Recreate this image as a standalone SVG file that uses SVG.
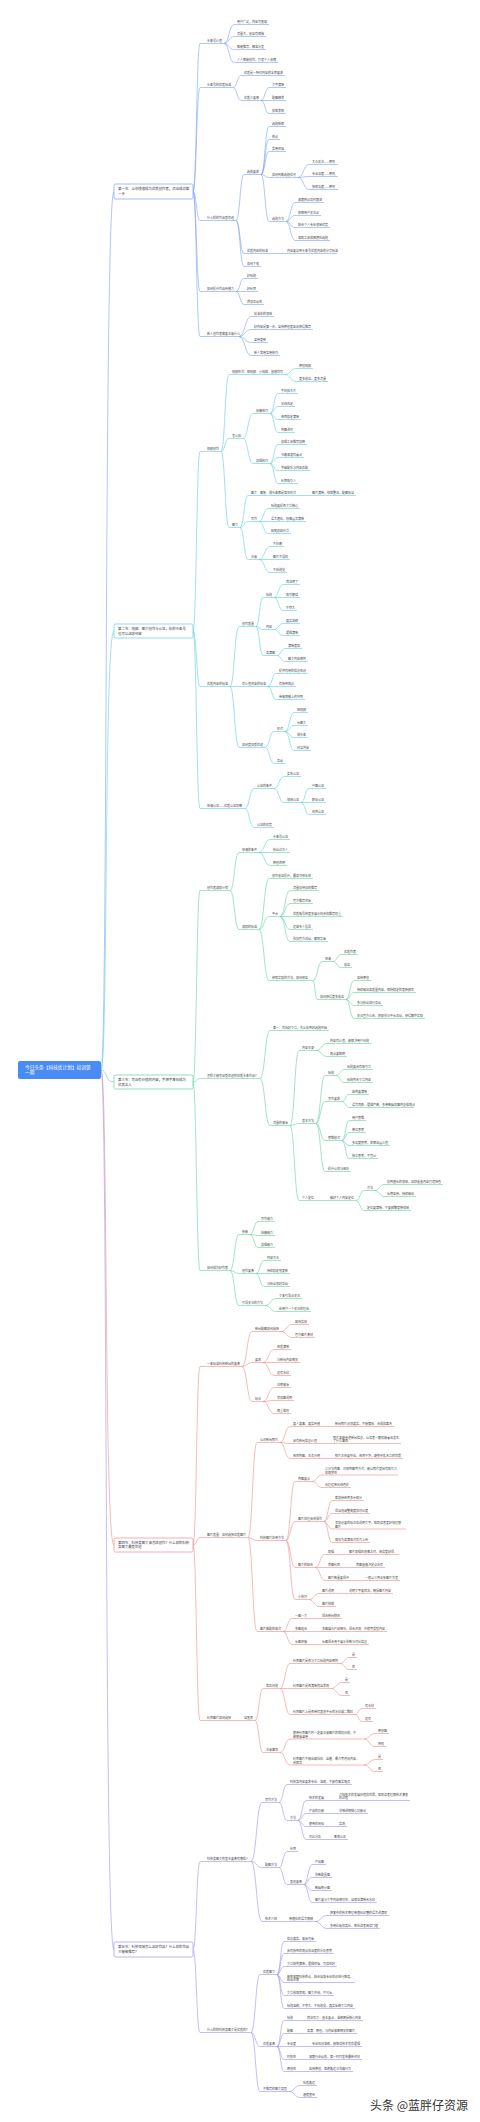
<svg xmlns="http://www.w3.org/2000/svg" width="480" height="2122" viewBox="0 0 480 2122">
<style>
text{font-family:"Noto Sans CJK SC","Noto Sans",sans-serif;font-size:3px;fill:#484848}
.l1 text{font-size:3.4px;fill:#3a3a3a}
.root text{font-size:4.7px;fill:#fff}
.wm{font-size:12px;fill:#333;stroke:#fff;stroke-width:0.4px;paint-order:stroke}
path{fill:none;stroke-width:0.6}
.c1 path,.c1 rect{stroke:#7aa2f3}
.c2 path,.c2 rect{stroke:#5dcfe0}
.c3 path,.c3 rect{stroke:#5fd3a0}
.c4 path,.c4 rect{stroke:#f28b8b}
.c5 path,.c5 rect{stroke:#9d92ee}
.l1 rect{fill:#fff;stroke-width:0.7}
</style>
<rect width="480" height="2122" fill="#fff"/>

<g id="connectors">
<g class="c1">
<path d="M101 1070C108 1070 104 191.5 114 191.5"/>
<path d="M193 191.5C196.5 191.5 196.5 43.5 200 43.5M193 191.5C196.5 191.5 196.5 87.5 200 87.5M193 191.5C196.5 191.5 196.5 220.5 200 220.5M193 191.5C196.5 191.5 196.5 291.5 200 291.5M193 191.5C196.5 191.5 196.5 336.5 200 336.5"/>
<path d="M224 43.5C229 43.5 229 24.5 234 24.5M224 43.5C229 43.5 229 36.5 234 36.5M224 43.5C229 43.5 229 49.5 234 49.5M224 43.5C229 43.5 229 62.5 234 62.5"/>
<path d="M233 87.5C237 87.5 237 75.5 241 75.5M233 87.5C237 87.5 237 100.5 241 100.5"/>
<path d="M261 100.5C265 100.5 265 87.5 269 87.5M261 100.5H269M261 100.5C265 100.5 265 113.5 269 113.5"/>
<path d="M236 220.5C240 220.5 240 174.5 244 174.5M236 220.5C240 220.5 240 253.5 244 253.5M236 220.5C240 220.5 240 266.5 244 266.5"/>
<path d="M261 174.5C265 174.5 265 126.5 269 126.5M261 174.5C265 174.5 265 139.5 269 139.5M261 174.5C265 174.5 265 151.5 269 151.5M261 174.5C265 174.5 265 177.5 269 177.5M261 174.5C265 174.5 265 221.5 269 221.5"/>
<path d="M298 177.5C303.5 177.5 303.5 164.5 309 164.5M298 177.5C303.5 177.5 303.5 176.5 309 176.5M298 177.5C303.5 177.5 303.5 189.5 309 189.5"/>
<path d="M286 221.5C290.5 221.5 290.5 202.5 295 202.5M286 221.5C290.5 221.5 290.5 215.5 295 215.5M286 221.5C290.5 221.5 290.5 227.5 295 227.5M286 221.5C290.5 221.5 290.5 240.5 295 240.5"/>
<path d="M270 253.5H284"/>
<path d="M236 291.5C240 291.5 240 278.5 244 278.5M236 291.5H244M236 291.5C240 291.5 240 304.5 244 304.5"/>
<path d="M239 336.5C245 336.5 245 316.5 251 316.5M239 336.5C245 336.5 245 329.5 251 329.5M239 336.5C245 336.5 245 342.5 251 342.5M239 336.5C245 336.5 245 355.5 251 355.5"/>
</g>
<g class="c2">
<path d="M101 1070C108 1070 104 631 114 631"/>
<path d="M193 631C196.5 631 196.5 451.5 200 451.5M193 631C196.5 631 196.5 686.5 200 686.5M193 631C196.5 631 196.5 808.5 200 808.5"/>
<path d="M221 451.5C225 451.5 225 374.5 229 374.5M221 451.5C225 451.5 225 438.5 229 438.5M221 451.5C225 451.5 225 527.5 229 527.5"/>
<path d="M285 374.5C290.5 374.5 290.5 368.5 296 368.5M285 374.5C290.5 374.5 290.5 381.5 296 381.5"/>
<path d="M243 438.5C248 438.5 248 413.5 253 413.5M243 438.5C248 438.5 248 463.5 253 463.5"/>
<path d="M270 413.5C274 413.5 274 393.5 278 393.5M270 413.5C274 413.5 274 406.5 278 406.5M270 413.5C274 413.5 274 419.5 278 419.5M270 413.5C274 413.5 274 432.5 278 432.5"/>
<path d="M270 463.5C274 463.5 274 444.5 278 444.5M270 463.5C274 463.5 274 457.5 278 457.5M270 463.5C274 463.5 274 470.5 278 470.5M270 463.5C274 463.5 274 483.5 278 483.5"/>
<path d="M240 527.5C244 527.5 244 495.5 248 495.5M240 527.5C244 527.5 244 521.5 248 521.5M240 527.5C244 527.5 244 559.5 248 559.5"/>
<path d="M301 495.5H309"/>
<path d="M259 521.5C263.5 521.5 263.5 508.5 268 508.5M259 521.5H268M259 521.5C263.5 521.5 263.5 533.5 268 533.5"/>
<path d="M259 559.5C264.5 559.5 264.5 546.5 270 546.5M259 559.5H270M259 559.5C264.5 559.5 264.5 572.5 270 572.5"/>
<path d="M230 686.5C234.5 686.5 234.5 626.5 239 626.5M230 686.5H239M230 686.5C234.5 686.5 234.5 747.5 239 747.5"/>
<path d="M256 626.5C259.5 626.5 259.5 597.5 263 597.5M256 626.5C259.5 626.5 259.5 629.5 263 629.5M256 626.5C259.5 626.5 259.5 655.5 263 655.5"/>
<path d="M274 597.5C278.5 597.5 278.5 584.5 283 584.5M274 597.5H283M274 597.5C278.5 597.5 278.5 610.5 283 610.5"/>
<path d="M274 629.5C278.5 629.5 278.5 623.5 283 623.5M274 629.5C278.5 629.5 278.5 635.5 283 635.5"/>
<path d="M277 655.5C281 655.5 281 648.5 285 648.5M277 655.5C281 655.5 281 661.5 285 661.5"/>
<path d="M268 686.5C272 686.5 272 673.5 276 673.5M268 686.5H276M268 686.5C272 686.5 272 699.5 276 699.5"/>
<path d="M265 747.5C269.5 747.5 269.5 731.5 274 731.5M265 747.5C269.5 747.5 269.5 763.5 274 763.5"/>
<path d="M285 731.5C289.5 731.5 289.5 712.5 294 712.5M285 731.5C289.5 731.5 289.5 725.5 294 725.5M285 731.5C289.5 731.5 289.5 737.5 294 737.5M285 731.5C289.5 731.5 289.5 750.5 294 750.5"/>
<path d="M245 808.5C249.5 808.5 249.5 788.5 254 788.5M245 808.5C249.5 808.5 249.5 827.5 254 827.5"/>
<path d="M274 788.5C279 788.5 279 776.5 284 776.5M274 788.5C279 788.5 279 802.5 284 802.5"/>
<path d="M301 802.5C305 802.5 305 788.5 309 788.5M301 802.5H309M301 802.5C305 802.5 305 814.5 309 814.5"/>
</g>
<g class="c3">
<path d="M101 1070C108 1070 104 1082 114 1082"/>
<path d="M193 1082C196.5 1082 196.5 890.5 200 890.5M193 1082C196.5 1082 196.5 1078.5 200 1078.5M193 1082C196.5 1082 196.5 1270.5 200 1270.5"/>
<path d="M230 890.5C234.5 890.5 234.5 852.5 239 852.5M230 890.5C234.5 890.5 234.5 929.5 239 929.5"/>
<path d="M259 852.5C264.5 852.5 264.5 839.5 270 839.5M259 852.5H270M259 852.5C264.5 852.5 264.5 865.5 270 865.5"/>
<path d="M259 929.5C264 929.5 264 878.5 269 878.5M259 929.5C264 929.5 264 916.5 269 916.5M259 929.5C264 929.5 264 980.5 269 980.5"/>
<path d="M280 916.5C285 916.5 285 890.5 290 890.5M280 916.5C285 916.5 285 903.5 290 903.5M280 916.5H290M280 916.5C285 916.5 285 929.5 290 929.5M280 916.5C285 916.5 285 941.5 290 941.5"/>
<path d="M313 980.5C317.5 980.5 317.5 961.5 322 961.5M313 980.5C315 980.5 315 999.5 317 999.5"/>
<path d="M333 961.5C337 961.5 337 954.5 341 954.5M333 961.5C337 961.5 337 967.5 341 967.5"/>
<path d="M346 999.5C350 999.5 350 980.5 354 980.5M346 999.5C350 999.5 350 992.5 354 992.5M346 999.5C350 999.5 350 1005.5 354 1005.5M346 999.5C350 999.5 350 1018.5 354 1018.5"/>
<path d="M260 1078.5C265 1078.5 265 1030.5 270 1030.5M260 1078.5C265 1078.5 265 1125.5 270 1125.5"/>
<path d="M290 1125.5C294.5 1125.5 294.5 1050.5 299 1050.5M290 1125.5C294.5 1125.5 294.5 1123.5 299 1123.5M290 1125.5C294.5 1125.5 294.5 1200.5 299 1200.5"/>
<path d="M316 1050.5C321.5 1050.5 321.5 1043.5 327 1043.5M316 1050.5C321.5 1050.5 321.5 1056.5 327 1056.5"/>
<path d="M316 1123.5C320.5 1123.5 320.5 1075.5 325 1075.5M316 1123.5C320.5 1123.5 320.5 1101.5 325 1101.5M316 1123.5C320.5 1123.5 320.5 1140.5 325 1140.5M316 1123.5C320.5 1123.5 320.5 1171.5 325 1171.5"/>
<path d="M336 1075.5C340 1075.5 340 1069.5 344 1069.5M336 1075.5C340 1075.5 340 1082.5 344 1082.5"/>
<path d="M342 1101.5C345.5 1101.5 345.5 1094.5 349 1094.5M342 1101.5C345.5 1101.5 345.5 1107.5 349 1107.5"/>
<path d="M342 1140.5C345.5 1140.5 345.5 1120.5 349 1120.5M342 1140.5C345.5 1140.5 345.5 1132.5 349 1132.5M342 1140.5C345.5 1140.5 345.5 1145.5 349 1145.5M342 1140.5C345.5 1140.5 345.5 1158.5 349 1158.5"/>
<path d="M316 1200.5H327"/>
<path d="M356 1200.5C360 1200.5 360 1190.5 364 1190.5M356 1200.5C360 1200.5 360 1210.5 364 1210.5"/>
<path d="M375 1190.5C379.5 1190.5 379.5 1184.5 384 1184.5M375 1190.5C379.5 1190.5 379.5 1196.5 384 1196.5"/>
<path d="M230 1270.5C234.5 1270.5 234.5 1234.5 239 1234.5M230 1270.5C234.5 1270.5 234.5 1273.5 239 1273.5M230 1270.5C234.5 1270.5 234.5 1305.5 239 1305.5"/>
<path d="M250 1234.5C254 1234.5 254 1221.5 258 1221.5M250 1234.5C254 1234.5 254 1235.5 258 1235.5M250 1234.5C254 1234.5 254 1247.5 258 1247.5"/>
<path d="M256 1273.5C260 1273.5 260 1260.5 264 1260.5M256 1273.5H264M256 1273.5C260 1273.5 260 1286.5 264 1286.5"/>
<path d="M265 1305.5C270.5 1305.5 270.5 1298.5 276 1298.5M265 1305.5C270.5 1305.5 270.5 1311.5 276 1311.5"/>
</g>
<g class="c4">
<path d="M101 1070C108 1070 104 1545 114 1545"/>
<path d="M193 1545C196.5 1545 196.5 1366.5 200 1366.5M193 1545C196.5 1545 196.5 1537.5 200 1537.5M193 1545C196.5 1545 196.5 1720.5 200 1720.5"/>
<path d="M242 1366.5C247 1366.5 247 1331.5 252 1331.5M242 1366.5C247 1366.5 247 1362.5 252 1362.5M242 1366.5C247 1366.5 247 1401.5 252 1401.5"/>
<path d="M281 1331.5C286.5 1331.5 286.5 1324.5 292 1324.5M281 1331.5C286.5 1331.5 286.5 1337.5 292 1337.5"/>
<path d="M263 1362.5C268.5 1362.5 268.5 1349.5 274 1349.5M263 1362.5H274M263 1362.5C268.5 1362.5 268.5 1375.5 274 1375.5"/>
<path d="M263 1401.5C268.5 1401.5 268.5 1387.5 274 1387.5M263 1401.5C268.5 1401.5 268.5 1400.5 274 1400.5M263 1401.5C268.5 1401.5 268.5 1413.5 274 1413.5"/>
<path d="M248 1537.5C252.5 1537.5 252.5 1442.5 257 1442.5M248 1537.5C252.5 1537.5 252.5 1540.5 257 1540.5M248 1537.5C252.5 1537.5 252.5 1631.5 257 1631.5"/>
<path d="M280 1442.5C285 1442.5 285 1426.5 290 1426.5M280 1442.5C285 1442.5 285 1443.5 290 1443.5M280 1442.5C285 1442.5 285 1458.5 290 1458.5"/>
<path d="M322 1426.5H332M319 1443.5H330M322 1458.5H332"/>
<path d="M286 1540.5C290.5 1540.5 290.5 1481.5 295 1481.5M286 1540.5C290.5 1540.5 290.5 1521.5 295 1521.5M286 1540.5C290.5 1540.5 290.5 1567.5 295 1567.5M286 1540.5C290.5 1540.5 290.5 1599.5 295 1599.5"/>
<path d="M312 1481.5C317 1481.5 317 1475 322 1475M312 1481.5C317 1481.5 317 1487.5 322 1487.5"/>
<path d="M324 1521.5C328 1521.5 328 1500.5 332 1500.5M324 1521.5C328 1521.5 328 1513.5 332 1513.5M324 1521.5C328 1521.5 328 1529 332 1529M324 1521.5C328 1521.5 328 1542.5 332 1542.5"/>
<path d="M315 1567.5C320 1567.5 320 1554.5 325 1554.5M315 1567.5H325M315 1567.5C320 1567.5 320 1580.5 325 1580.5"/>
<path d="M336 1554.5H346M342 1567.5H353M351 1580.5H362"/>
<path d="M309 1599.5C314 1599.5 314 1593.5 319 1593.5M309 1599.5C314 1599.5 314 1606.5 319 1606.5"/>
<path d="M336 1593.5H346"/>
<path d="M283 1631.5C287.5 1631.5 287.5 1618.5 292 1618.5M283 1631.5H292M283 1631.5C287.5 1631.5 287.5 1644.5 292 1644.5"/>
<path d="M309 1618.5H319M309 1631.5H319M309 1644.5H319"/>
<path d="M233 1720.5H241"/>
<path d="M255 1720.5C259 1720.5 259 1688.5 263 1688.5M255 1720.5C259 1720.5 259 1752.5 263 1752.5"/>
<path d="M280 1688.5C285 1688.5 285 1663.5 290 1663.5M280 1688.5H290M280 1688.5C285 1688.5 285 1714.5 290 1714.5"/>
<path d="M340 1663.5C344.5 1663.5 344.5 1657.5 349 1657.5M340 1663.5C344.5 1663.5 344.5 1669.5 349 1669.5"/>
<path d="M331 1688.5C336.5 1688.5 336.5 1682.5 342 1682.5M331 1688.5C336.5 1688.5 336.5 1695.5 342 1695.5"/>
<path d="M355 1714.5C358.5 1714.5 358.5 1708.5 362 1708.5M355 1714.5C358.5 1714.5 358.5 1721.5 362 1721.5"/>
<path d="M280 1752.5C285 1752.5 285 1739 290 1739M280 1752.5C285 1752.5 285 1765 290 1765"/>
<path d="M364 1739C369.5 1739 369.5 1733.5 375 1733.5M364 1739C369.5 1739 369.5 1746.5 375 1746.5"/>
<path d="M364 1765C369.5 1765 369.5 1759.5 375 1759.5M364 1765C369.5 1765 369.5 1771.5 375 1771.5"/>
</g>
<g class="c5">
<path d="M101 1070C108 1070 104 1949.5 114 1949.5"/>
<path d="M193 1949.5C196.5 1949.5 196.5 1861.5 200 1861.5M193 1949.5C196.5 1949.5 196.5 2032.5 200 2032.5"/>
<path d="M251 1861.5C256.5 1861.5 256.5 1802.5 262 1802.5M251 1861.5C256.5 1861.5 256.5 1867.5 262 1867.5M251 1861.5C256.5 1861.5 256.5 1921.5 262 1921.5"/>
<path d="M279 1802.5C283 1802.5 283 1784.5 287 1784.5M279 1802.5C283 1802.5 283 1820.5 287 1820.5"/>
<path d="M298 1820.5C302 1820.5 302 1800.5 306 1800.5M298 1820.5C302 1820.5 302 1813.5 306 1813.5M298 1820.5C302 1820.5 302 1826.5 306 1826.5M298 1820.5C302 1820.5 302 1839.5 306 1839.5"/>
<path d="M326 1800.5H336M326 1813.5H336M326 1826.5H336M323 1839.5H331"/>
<path d="M279 1867.5C283 1867.5 283 1851.5 287 1851.5M279 1867.5C283 1867.5 283 1884.5 287 1884.5"/>
<path d="M304 1884.5C308 1884.5 308 1864.5 312 1864.5M304 1884.5C308 1884.5 308 1877.5 312 1877.5M304 1884.5C308 1884.5 308 1890.5 312 1890.5M304 1884.5C308 1884.5 308 1902.5 312 1902.5"/>
<path d="M279 1921.5H286"/>
<path d="M315 1921.5C321 1921.5 321 1915.5 327 1915.5M315 1921.5C321 1921.5 321 1928.5 327 1928.5"/>
<path d="M251 2032.5C255.5 2032.5 255.5 1974.5 260 1974.5M251 2032.5C255.5 2032.5 255.5 2046.5 260 2046.5M251 2032.5C255.5 2032.5 255.5 2091.5 260 2091.5"/>
<path d="M277 1974.5C280.5 1974.5 280.5 1941.5 284 1941.5M277 1974.5C280.5 1974.5 280.5 1953.5 284 1953.5M277 1974.5C280.5 1974.5 280.5 1966.5 284 1966.5M277 1974.5C280.5 1974.5 280.5 1982.5 284 1982.5M277 1974.5C280.5 1974.5 280.5 1995.5 284 1995.5M277 1974.5C280.5 1974.5 280.5 2008.5 284 2008.5"/>
<path d="M277 2046.5C280.5 2046.5 280.5 2020.5 284 2020.5M277 2046.5C280.5 2046.5 280.5 2033.5 284 2033.5M277 2046.5H284M277 2046.5C280.5 2046.5 280.5 2059.5 284 2059.5M277 2046.5C280.5 2046.5 280.5 2071.5 284 2071.5"/>
<path d="M295 2020.5H304M295 2033.5H304M298 2046.5H309M298 2059.5H306M298 2071.5H306"/>
<path d="M289 2091.5C294.5 2091.5 294.5 2085.5 300 2085.5M289 2091.5C294.5 2091.5 294.5 2097.5 300 2097.5"/>
</g>
</g>

<g id="root" class="root">
<rect x="18" y="1061" width="83" height="18" rx="2" fill="#4a8cf5"/>
<text x="25" y="1068.6">今日头条【科技优计划】培训第</text>
<text x="25" y="1074.3">一期</text>
</g>

<g class="l1 c1"><g id="sec1">
<rect x="114" y="184" width="79" height="15" rx="1.5"/>
<text x="118" y="189.5">第一节：让你快速成为优质创作者，迈出成功第</text>
<text x="118" y="194.5">一步</text>
</g></g>
<g class="l1 c2"><g id="sec2">
<rect x="114" y="624" width="79" height="14" rx="1.5"/>
<text x="118" y="629.9">第二节：视频、图文创作与认证，你的头条号</text>
<text x="118" y="634.9">也可以这样经营</text>
</g></g>
<g class="l1 c3"><g id="sec3">
<rect x="114" y="1075" width="79" height="14" rx="1.5"/>
<text x="118" y="1080.9">第三节：写出有价值的内容，手把手教你成为</text>
<text x="118" y="1085.9">优质达人</text>
</g></g>
<g class="l1 c4"><g id="sec4">
<rect x="114" y="1538" width="79" height="14" rx="1.5"/>
<text x="118" y="1543.5">第四节：科技类图文该怎样创作？什么样的科技</text>
<text x="118" y="1548.2">类图文最受欢迎</text>
</g></g>
<g class="l1 c5"><g id="sec5">
<rect x="114" y="1942" width="79" height="15" rx="1.5"/>
<text x="118" y="1947.9">第五节：科技领域怎么出好作品？什么样的作品</text>
<text x="118" y="1952.5">才能被推荐？</text>
</g></g>

<g class="c1">
<g id="s1a1"><text x="207" y="42.1">头条号价值</text><path d="M200 43.5H224"/></g>
<g id="s1a1a"><text x="237" y="23.1">用户广泛，内容可变现</text><path d="M234 24.5H269"/></g>
<g id="s1a1b"><text x="237" y="35.1">流量大，收益有保障</text><path d="M234 36.5H266"/></g>
<g id="s1a1c"><text x="237" y="48.1">智能推荐，精准分发</text><path d="M234 49.5H266"/></g>
<g id="s1a1d"><text x="237" y="61.1">人人都能创作，打造个人品牌</text><path d="M234 62.5H278"/></g>
<g id="s1a2"><text x="207" y="86.1">头条号的优质标准</text><path d="M200 87.5H233"/></g>
<g id="s1b1"><text x="244" y="74.1">优质是一种对内容的全面要求</text><path d="M241 75.5H285"/></g>
<g id="s1b2"><text x="244" y="99.1">优质三要素</text><path d="M241 100.5H261"/></g>
<g id="s1c1"><text x="272" y="86.1">文字清晰</text><path d="M269 87.5H286"/></g>
<g id="s1c2"><text x="272" y="99.1">配图精美</text><path d="M269 100.5H286"/></g>
<g id="s1c3"><text x="272" y="112.1">排版美观</text><path d="M269 113.5H286"/></g>
<g id="s1a3"><text x="207" y="219.1">什么样的作品受欢迎</text><path d="M200 220.5H236"/></g>
<g id="s1d1"><text x="247" y="173.1">选题要求</text><path d="M244 174.5H261"/></g>
<g id="s1e1"><text x="272" y="125.1">选题新颖</text><path d="M269 126.5H286"/></g>
<g id="s1e2"><text x="272" y="138.1">热点</text><path d="M269 139.5H280"/></g>
<g id="s1e3"><text x="272" y="150.1">实用性强</text><path d="M269 151.5H286"/></g>
<g id="s1e4"><text x="272" y="176.1">如何判断选题优劣</text><path d="M269 177.5H298"/></g>
<g id="s1f1"><text x="312" y="163.1">大众关注——原则</text><path d="M309 164.5H338"/></g>
<g id="s1f2"><text x="312" y="175.1">专业深度——原则</text><path d="M309 176.5H338"/></g>
<g id="s1f3"><text x="312" y="188.1">独家角度——原则</text><path d="M309 189.5H338"/></g>
<g id="s1e5"><text x="272" y="220.1">选题方法</text><path d="M269 221.5H286"/></g>
<g id="s1g1"><text x="298" y="201.1">紧跟热点及时跟进</text><path d="M295 202.5H324"/></g>
<g id="s1g2"><text x="298" y="214.1">挖掘用户关注点</text><path d="M295 215.5H321"/></g>
<g id="s1g3"><text x="298" y="226.1">结合个人专业领域优势</text><path d="M295 227.5H330"/></g>
<g id="s1g4"><text x="298" y="239.1">借助工具挖掘潜在选题</text><path d="M295 240.5H330"/></g>
<g id="s1d2"><text x="247" y="252.1">优质内容的标准</text><path d="M244 253.5H270"/></g>
<g id="s1h1"><text x="287" y="252.1">内容要达到头条号优质内容的分享标准</text><path d="M284 253.5H337"/></g>
<g id="s1d3"><text x="247" y="265.1">如何下笔</text><path d="M244 266.5H261"/></g>
<g id="s1a4"><text x="207" y="290.1">如何提升作品传播力</text><path d="M200 291.5H236"/></g>
<g id="s1i1"><text x="247" y="277.1">好标题</text><path d="M244 278.5H258"/></g>
<g id="s1i2"><text x="247" y="290.1">好封面</text><path d="M244 291.5H258"/></g>
<g id="s1i3"><text x="247" y="303.1">增加互动性</text><path d="M244 304.5H264"/></g>
<g id="s1a5"><text x="207" y="335.1">新人创作者需要注意什么</text><path d="M200 336.5H239"/></g>
<g id="s1j1"><text x="254" y="315.1">找准你的领域</text><path d="M251 316.5H274"/></g>
<g id="s1j2"><text x="254" y="328.1">好内容是第一步，坚持原创更容易获得推荐</text><path d="M251 329.5H313"/></g>
<g id="s1j3"><text x="254" y="341.1">坚持更新</text><path d="M251 342.5H268"/></g>
<g id="s1j4"><text x="254" y="354.1">新人常用实用技巧</text><path d="M251 355.5H280"/></g>
</g>

<g class="c2">
<g id="s2e1"><text x="207" y="450.1">视频创作</text><path d="M200 451.5H221"/></g>
<g id="s2f1"><text x="232" y="373.1">视频形式：短视频、小视频、直播均可</text><path d="M229 374.5H285"/></g>
<g id="s2f1a"><text x="299" y="367.1">原创视频</text><path d="M296 368.5H313"/></g>
<g id="s2f1b"><text x="299" y="380.1">更多收益，更多流量</text><path d="M296 381.5H328"/></g>
<g id="s2f2"><text x="232" y="437.1">怎么拍</text><path d="M229 438.5H243"/></g>
<g id="s2g1"><text x="256" y="412.1">拍摄技巧</text><path d="M253 413.5H270"/></g>
<g id="s2g1a"><text x="281" y="392.1">手机拍大片</text><path d="M278 393.5H298"/></g>
<g id="s2g1b"><text x="281" y="405.1">光线充足</text><path d="M278 406.5H295"/></g>
<g id="s2g1c"><text x="281" y="418.1">画面稳定清晰</text><path d="M278 419.5H301"/></g>
<g id="s2g1d"><text x="281" y="431.1">构图讲究</text><path d="M278 432.5H295"/></g>
<g id="s2g2"><text x="256" y="462.1">剪辑技巧</text><path d="M253 463.5H270"/></g>
<g id="s2g2a"><text x="281" y="443.1">剪辑工具推荐剪映</text><path d="M278 444.5H307"/></g>
<g id="s2g2b"><text x="281" y="456.1">节奏紧凑有看点</text><path d="M278 457.5H304"/></g>
<g id="s2g2c"><text x="281" y="469.1">字幕配乐与内容匹配</text><path d="M278 470.5H310"/></g>
<g id="s2g2d"><text x="281" y="482.1">封面吸引人</text><path d="M278 483.5H298"/></g>
<g id="s2f3"><text x="232" y="526.1">图文</text><path d="M229 527.5H240"/></g>
<g id="s2h1"><text x="251" y="494.1">图文、图集、微头条都是常见形式</text><path d="M248 495.5H301"/></g>
<g id="s2h1a"><text x="312" y="494.1">图片清晰，排版整洁，配图恰当</text><path d="M309 495.5H356"/></g>
<g id="s2h2"><text x="251" y="520.1">写作</text><path d="M248 521.5H259"/></g>
<g id="s2h2a"><text x="271" y="507.1">标题要提炼文章核心</text><path d="M268 508.5H300"/></g>
<g id="s2h2b"><text x="271" y="520.1">语言通俗，段落层次清晰</text><path d="M268 521.5H306"/></g>
<g id="s2h2c"><text x="271" y="532.1">结尾总结升华</text><path d="M268 533.5H291"/></g>
<g id="s2h3"><text x="251" y="558.1">注意</text><path d="M248 559.5H259"/></g>
<g id="s2h3a"><text x="273" y="545.1">不抄袭</text><path d="M270 546.5H284"/></g>
<g id="s2h3b"><text x="273" y="558.1">图片不侵权</text><path d="M270 559.5H290"/></g>
<g id="s2h3c"><text x="273" y="571.1">不标题党</text><path d="M270 572.5H287"/></g>
<g id="s2e2"><text x="207" y="685.1">优质内容的标准</text><path d="M200 686.5H230"/></g>
<g id="s2k1"><text x="242" y="625.1">创作质量</text><path d="M239 626.5H256"/></g>
<g id="s2k1a"><text x="266" y="596.1">标题</text><path d="M263 597.5H274"/></g>
<g id="s2k1a1"><text x="286" y="583.1">简洁明了</text><path d="M283 584.5H300"/></g>
<g id="s2k1a2"><text x="286" y="596.1">吸引眼球</text><path d="M283 597.5H300"/></g>
<g id="s2k1a3"><text x="286" y="609.1">不夸大</text><path d="M283 610.5H297"/></g>
<g id="s2k1b"><text x="266" y="628.1">内容</text><path d="M263 629.5H274"/></g>
<g id="s2k1b1"><text x="286" y="622.1">真实准确</text><path d="M283 623.5H300"/></g>
<g id="s2k1b2"><text x="286" y="634.1">逻辑清晰</text><path d="M283 635.5H300"/></g>
<g id="s2k1c"><text x="266" y="654.1">高清图</text><path d="M263 655.5H277"/></g>
<g id="s2k1c1"><text x="288" y="647.1">清晰度高</text><path d="M285 648.5H302"/></g>
<g id="s2k1c2"><text x="288" y="660.1">图文内容相符</text><path d="M285 661.5H308"/></g>
<g id="s2k2"><text x="242" y="685.1">有价值内容的标准</text><path d="M239 686.5H268"/></g>
<g id="s2k2a"><text x="279" y="672.1">提供有用的信息知识</text><path d="M276 673.5H308"/></g>
<g id="s2k2b"><text x="279" y="685.1">有独到观点</text><path d="M276 686.5H296"/></g>
<g id="s2k2c"><text x="279" y="698.1">带来情感上的共鸣</text><path d="M276 699.5H305"/></g>
<g id="s2k3"><text x="242" y="746.1">如何更加受欢迎</text><path d="M239 747.5H265"/></g>
<g id="s2k3a"><text x="277" y="730.1">形式</text><path d="M274 731.5H285"/></g>
<g id="s2k3a1"><text x="297" y="711.1">短视频</text><path d="M294 712.5H308"/></g>
<g id="s2k3a2"><text x="297" y="724.1">长图文</text><path d="M294 725.5H308"/></g>
<g id="s2k3a3"><text x="297" y="736.1">微头条</text><path d="M294 737.5H308"/></g>
<g id="s2k3a4"><text x="297" y="749.1">问答内容</text><path d="M294 750.5H311"/></g>
<g id="s2k3b"><text x="277" y="762.1">互动</text><path d="M274 763.5H285"/></g>
<g id="s2e3"><text x="207" y="807.1">申请认证——优质认证攻略</text><path d="M200 808.5H245"/></g>
<g id="s2m1"><text x="257" y="787.1">认证的条件</text><path d="M254 788.5H274"/></g>
<g id="s2m1a"><text x="287" y="775.1">实名认证</text><path d="M284 776.5H301"/></g>
<g id="s2m1b"><text x="287" y="801.1">领域认证</text><path d="M284 802.5H301"/></g>
<g id="s2m1b1"><text x="312" y="787.1">兴趣认证</text><path d="M309 788.5H326"/></g>
<g id="s2m1b2"><text x="312" y="801.1">职业认证</text><path d="M309 802.5H326"/></g>
<g id="s2m1b3"><text x="312" y="813.1">机构认证</text><path d="M309 814.5H326"/></g>
<g id="s2m2"><text x="257" y="826.1">认证的优势</text><path d="M254 827.5H274"/></g>
</g>

<g class="c3">
<g id="s3a"><text x="207" y="889.1">创作者激励计划</text><path d="M200 890.5H230"/></g>
<g id="s3a1"><text x="242" y="851.1">申请的条件</text><path d="M239 852.5H259"/></g>
<g id="s3a1a"><text x="273" y="838.1">头条号认证</text><path d="M270 839.5H290"/></g>
<g id="s3a1b"><text x="273" y="851.1">粉丝过万人</text><path d="M270 852.5H290"/></g>
<g id="s3a1c"><text x="273" y="864.1">原创声明</text><path d="M270 865.5H287"/></g>
<g id="s3a2"><text x="242" y="928.1">激励的标准</text><path d="M239 929.5H259"/></g>
<g id="s3a2a"><text x="272" y="877.1">创作收益提升，最高可获五倍</text><path d="M269 878.5H313"/></g>
<g id="s3a2b"><text x="272" y="915.1">平台</text><path d="M269 916.5H280"/></g>
<g id="s3a2b1"><text x="293" y="889.1">流量扶持加权推荐</text><path d="M290 890.5H319"/></g>
<g id="s3a2b2"><text x="293" y="902.1">官方推荐资源</text><path d="M290 903.5H313"/></g>
<g id="s3a2b3"><text x="293" y="915.1">优质账号获更多展示机会和推荐权重</text><path d="M290 916.5H343"/></g>
<g id="s3a2b4"><text x="293" y="928.1">运营专人指导</text><path d="M290 929.5H313"/></g>
<g id="s3a2b5"><text x="293" y="940.1">参加官方活动，赢取奖金</text><path d="M290 941.5H328"/></g>
<g id="s3a2c"><text x="272" y="979.1">获取奖励的方法，如何获益</text><path d="M269 980.5H313"/></g>
<g id="s3a2c1"><text x="325" y="960.1">申请</text><path d="M322 961.5H333"/></g>
<g id="s3a2c1a"><text x="344" y="953.1">优质作者</text><path d="M341 954.5H358"/></g>
<g id="s3a2c1b"><text x="344" y="966.1">收益</text><path d="M341 967.5H352"/></g>
<g id="s3a2c2"><text x="320" y="998.1">如何获得更多收益</text><path d="M317 999.5H346"/></g>
<g id="s3a2c2a"><text x="357" y="979.1">坚持原创</text><path d="M354 980.5H371"/></g>
<g id="s3a2c2b"><text x="357" y="991.1">持续输出高质量内容，保持稳定的更新频率</text><path d="M354 992.5H416"/></g>
<g id="s3a2c2c"><text x="357" y="1004.1">多与粉丝进行互动</text><path d="M354 1005.5H383"/></g>
<g id="s3a2c2d"><text x="357" y="1017.1">关注官方公告，积极参与平台活动，获得额外奖励</text><path d="M354 1018.5H425"/></g>
<g id="s3b"><text x="207" y="1077.1">怎样才能写出受欢迎的优质头条作品？</text><path d="M200 1078.5H260"/></g>
<g id="s3b1"><text x="273" y="1029.1">第一：写出好文章，先从找到好选题开始</text><path d="M270 1030.5H329"/></g>
<g id="s3b2"><text x="273" y="1124.1">流量的来源</text><path d="M270 1125.5H290"/></g>
<g id="s3b2a"><text x="302" y="1049.1">内容本身</text><path d="M299 1050.5H316"/></g>
<g id="s3b2a1"><text x="330" y="1042.1">内容有价值，能解决用户问题</text><path d="M327 1043.5H371"/></g>
<g id="s3b2a2"><text x="330" y="1055.1">观点要鲜明</text><path d="M327 1056.5H347"/></g>
<g id="s3b2b"><text x="302" y="1122.1">基本方法</text><path d="M299 1123.5H316"/></g>
<g id="s3b2b1"><text x="328" y="1074.1">标题</text><path d="M325 1075.5H336"/></g>
<g id="s3b2b1a"><text x="347" y="1068.1">标题要具有吸引力</text><path d="M344 1069.5H373"/></g>
<g id="s3b2b1b"><text x="347" y="1081.1">标题符合文章内容</text><path d="M344 1082.5H373"/></g>
<g id="s3b2b2"><text x="328" y="1100.1">写作要求</text><path d="M325 1101.5H342"/></g>
<g id="s3b2b2a"><text x="352" y="1093.1">结构要清晰</text><path d="M349 1094.5H369"/></g>
<g id="s3b2b2b"><text x="352" y="1106.1">语言简练、逻辑严密，多用数据和事例支撑观点</text><path d="M349 1107.5H414"/></g>
<g id="s3b2b3"><text x="328" y="1139.1">思维模式</text><path d="M325 1140.5H342"/></g>
<g id="s3b2b3a"><text x="352" y="1119.1">用户思维</text><path d="M349 1120.5H366"/></g>
<g id="s3b2b3b"><text x="352" y="1131.1">换位思考</text><path d="M349 1132.5H366"/></g>
<g id="s3b2b3c"><text x="352" y="1144.1">多角度思考，挖掘深层价值</text><path d="M349 1145.5H390"/></g>
<g id="s3b2b3d"><text x="352" y="1157.1">独立思考，不盲从</text><path d="M349 1158.5H378"/></g>
<g id="s3b2b4"><text x="328" y="1170.1">提升认知与阅历</text><path d="M325 1171.5H351"/></g>
<g id="s3b2c"><text x="302" y="1199.1">个人定位</text><path d="M299 1200.5H316"/></g>
<g id="s3b2c1"><text x="330" y="1199.1">做好个人内容定位</text><path d="M327 1200.5H356"/></g>
<g id="s3b2c1a"><text x="367" y="1189.1">方法</text><path d="M364 1190.5H375"/></g>
<g id="s3b2c1a1"><text x="387" y="1183.1">找到擅长的领域，深耕垂直内容打造特色</text><path d="M384 1184.5H443"/></g>
<g id="s3b2c1a2"><text x="387" y="1195.1">长期坚持，持续输出</text><path d="M384 1196.5H416"/></g>
<g id="s3b2c1b"><text x="367" y="1209.1">定位要清晰，不要频繁更换领域</text><path d="M364 1210.5H411"/></g>
<g id="s3c"><text x="207" y="1269.1">如何成为好作者</text><path d="M200 1270.5H230"/></g>
<g id="s3c1"><text x="242" y="1233.1">技能</text><path d="M239 1234.5H250"/></g>
<g id="s3c1a"><text x="261" y="1220.1">写作能力</text><path d="M258 1221.5H275"/></g>
<g id="s3c1b"><text x="261" y="1234.1">拍摄能力</text><path d="M258 1235.5H275"/></g>
<g id="s3c1c"><text x="261" y="1246.1">剪辑能力</text><path d="M258 1247.5H275"/></g>
<g id="s3c2"><text x="242" y="1272.1">创作要素</text><path d="M239 1273.5H256"/></g>
<g id="s3c2a"><text x="267" y="1259.1">内容为王</text><path d="M264 1260.5H281"/></g>
<g id="s3c2b"><text x="267" y="1272.1">持续稳定地更新</text><path d="M264 1273.5H290"/></g>
<g id="s3c2c"><text x="267" y="1285.1">与粉丝良好互动</text><path d="M264 1286.5H290"/></g>
<g id="s3c3"><text x="242" y="1304.1">引导关注的方法</text><path d="M239 1305.5H265"/></g>
<g id="s3c3a"><text x="279" y="1297.1">文末引导点关注</text><path d="M276 1298.5H302"/></g>
<g id="s3c3b"><text x="279" y="1310.1">给用户一个关注的理由</text><path d="M276 1311.5H311"/></g>
</g>

<g class="c4">
<g id="s4a"><text x="207" y="1365.1">一条标准科技新闻的要素</text><path d="M200 1366.5H242"/></g>
<g id="s4a1"><text x="255" y="1330.1">新闻配图如何选择</text><path d="M252 1331.5H281"/></g>
<g id="s4a1a"><text x="295" y="1323.1">现场实拍</text><path d="M292 1324.5H309"/></g>
<g id="s4a1b"><text x="295" y="1336.1">官方图片素材</text><path d="M292 1337.5H315"/></g>
<g id="s4a2"><text x="255" y="1361.1">要求</text><path d="M252 1362.5H263"/></g>
<g id="s4a2a"><text x="277" y="1348.1">画质清晰</text><path d="M274 1349.5H291"/></g>
<g id="s4a2b"><text x="277" y="1361.1">与新闻内容相关</text><path d="M274 1362.5H300"/></g>
<g id="s4a2c"><text x="277" y="1374.1">没有水印</text><path d="M274 1375.5H291"/></g>
<g id="s4a3"><text x="255" y="1400.1">标注</text><path d="M252 1401.5H263"/></g>
<g id="s4a3a"><text x="277" y="1386.1">注明来源</text><path d="M274 1387.5H291"/></g>
<g id="s4a3b"><text x="277" y="1399.1">添加图说明</text><path d="M274 1400.5H294"/></g>
<g id="s4a3c"><text x="277" y="1412.1">尊重版权</text><path d="M274 1413.5H291"/></g>
<g id="s4b"><text x="207" y="1536.1">图片质量：如何选择优质图片</text><path d="M200 1537.5H248"/></g>
<g id="s4b1"><text x="260" y="1441.1">认识新闻照片</text><path d="M257 1442.5H280"/></g>
<g id="s4b1a"><text x="293" y="1425.1">真人真事，真实传播</text><path d="M290 1426.5H322"/></g>
<g id="s4b1a1"><text x="335" y="1425.1">新闻照片必须真实，不能摆拍、合成和篡改</text><path d="M332 1426.5H394"/></g>
<g id="s4b1b"><text x="293" y="1442.1">具有新闻信息价值</text><path d="M290 1443.5H319"/></g>
<g id="s4b1b1"><text x="333" y="1438.6">照片要能传递新闻信息，让读者一眼就能看出发生</text><text x="333" y="1442.1">了什么事情</text><path d="M330 1443.5H401"/></g>
<g id="s4b1c"><text x="293" y="1457.1">画面构图，主次分明</text><path d="M290 1458.5H322"/></g>
<g id="s4b1c1"><text x="335" y="1457.1">照片主体要突出，画面干净，避免杂乱无章的背景</text><path d="M332 1458.5H403"/></g>
<g id="s4b2"><text x="260" y="1539.1">科技图片应用方法</text><path d="M257 1540.5H286"/></g>
<g id="s4b2a"><text x="298" y="1480.1">构图要点</text><path d="M295 1481.5H312"/></g>
<g id="s4b2a1"><text x="325" y="1470.1">三分法构图、对称构图等方式，能让照片更具有吸引力</text><text x="325" y="1473.6">和观赏性</text><path d="M322 1475H398"/></g>
<g id="s4b2a2"><text x="325" y="1486.1">合理运用光线色彩</text><path d="M322 1487.5H351"/></g>
<g id="s4b2b"><text x="298" y="1520.1">图片处理具体操作</text><path d="M295 1521.5H324"/></g>
<g id="s4b2b1"><text x="335" y="1499.1">裁剪掉画面多余部分</text><path d="M332 1500.5H364"/></g>
<g id="s4b2b2"><text x="335" y="1512.1">适当地调整亮度和对比度</text><path d="M332 1513.5H370"/></g>
<g id="s4b2b3"><text x="335" y="1524.1">添加必要的标注和说明文字，帮助读者更好地理解</text><text x="335" y="1527.6">图片</text><path d="M332 1529H406"/></g>
<g id="s4b2b4"><text x="335" y="1541.1">保存为高清格式后再上传</text><path d="M332 1542.5H370"/></g>
<g id="s4b2c"><text x="298" y="1566.1">图文的结合</text><path d="M295 1567.5H315"/></g>
<g id="s4b2c1"><text x="328" y="1553.1">穿插</text><path d="M325 1554.5H336"/></g>
<g id="s4b2c1a"><text x="349" y="1553.1">图片穿插在段落之间，阅读更舒适</text><path d="M346 1554.5H399"/></g>
<g id="s4b2c2"><text x="328" y="1566.1">首图封面</text><path d="M325 1567.5H342"/></g>
<g id="s4b2c2a"><text x="356" y="1566.1">首图直接决定点击率</text><path d="M353 1567.5H385"/></g>
<g id="s4b2c3"><text x="328" y="1579.1">图片数量要适中</text><path d="M325 1580.5H351"/></g>
<g id="s4b2c3a"><text x="365" y="1579.1">一般以三到五张图片为宜</text><path d="M362 1580.5H400"/></g>
<g id="s4b2d"><text x="298" y="1598.1">小技巧</text><path d="M295 1599.5H309"/></g>
<g id="s4b2d1"><text x="322" y="1592.1">图片说明</text><path d="M319 1593.5H336"/></g>
<g id="s4b2d1a"><text x="349" y="1592.1">说明文字要简洁，概括图片内容</text><path d="M346 1593.5H393"/></g>
<g id="s4b2d2"><text x="322" y="1605.1">图片排版</text><path d="M319 1606.5H336"/></g>
<g id="s4b3"><text x="260" y="1630.1">图片搭配的格式</text><path d="M257 1631.5H283"/></g>
<g id="s4b3a"><text x="295" y="1617.1">一图一文</text><path d="M292 1618.5H309"/></g>
<g id="s4b3a1"><text x="322" y="1617.1">适合新闻快讯</text><path d="M319 1618.5H342"/></g>
<g id="s4b3b"><text x="295" y="1630.1">多图组合</text><path d="M292 1631.5H309"/></g>
<g id="s4b3b1"><text x="322" y="1630.1">多图展示产品细节，适合评测、开箱等类型内容</text><path d="M319 1631.5H387"/></g>
<g id="s4b3c"><text x="295" y="1643.1">长图拼接</text><path d="M292 1644.5H309"/></g>
<g id="s4b3c1"><text x="322" y="1643.1">长图适合用于展示参数与对比信息</text><path d="M319 1644.5H369"/></g>
<g id="s4c"><text x="207" y="1719.1">封面图片如何选择</text><path d="M200 1720.5H233"/></g>
<g id="s4c1"><text x="244" y="1719.1">自查表</text><path d="M241 1720.5H255"/></g>
<g id="s4c1a"><text x="266" y="1687.1">常见问题</text><path d="M263 1688.5H280"/></g>
<g id="s4c1a1"><text x="293" y="1662.1">封面图片是否与文章标题内容相符</text><path d="M290 1663.5H340"/></g>
<g id="s4c1a1y"><text x="352" y="1656.1">是</text><path d="M349 1657.5H357"/></g>
<g id="s4c1a1n"><text x="352" y="1668.1">否</text><path d="M349 1669.5H357"/></g>
<g id="s4c1a2"><text x="293" y="1687.1">封面图片是否清晰而且美观</text><path d="M290 1688.5H331"/></g>
<g id="s4c1a2y"><text x="345" y="1681.1">是</text><path d="M342 1682.5H350"/></g>
<g id="s4c1a2n"><text x="345" y="1694.1">否</text><path d="M342 1695.5H350"/></g>
<g id="s4c1a3"><text x="293" y="1713.1">封面图片上是否带有其他平台的水印或二维码</text><path d="M290 1714.5H355"/></g>
<g id="s4c1a3y"><text x="365" y="1707.1">有水印</text><path d="M362 1708.5H376"/></g>
<g id="s4c1a3n"><text x="365" y="1720.1">没有</text><path d="M362 1721.5H373"/></g>
<g id="s4c1b"><text x="266" y="1751.1">注意事项</text><path d="M263 1752.5H280"/></g>
<g id="s4c1b1"><text x="293" y="1734.1">使用封面图片时一定要注意图片的版权问题，不</text><text x="293" y="1737.6">能随意盗用</text><path d="M290 1739H364"/></g>
<g id="s4c1b1a"><text x="378" y="1732.1">原创图</text><path d="M375 1733.5H389"/></g>
<g id="s4c1b1b"><text x="378" y="1745.1">授权</text><path d="M375 1746.5H386"/></g>
<g id="s4c1b2"><text x="293" y="1760.1">封面图片不能出现低俗、血腥、暴力等违规内容，</text><text x="293" y="1763.6">会限流</text><path d="M290 1765H364"/></g>
<g id="s4c1b2y"><text x="378" y="1758.1">是</text><path d="M375 1759.5H383"/></g>
<g id="s4c1b2n"><text x="378" y="1770.1">否</text><path d="M375 1771.5H383"/></g>
</g>

<g class="c5">
<g id="s5a"><text x="207" y="1860.1">科技类图文的基本要素有哪些？</text><path d="M200 1861.5H251"/></g>
<g id="s5a1"><text x="265" y="1801.1">写作方法</text><path d="M262 1802.5H279"/></g>
<g id="s5a1a"><text x="290" y="1783.1">科技类内容要求专业、准确，不能有事实错误</text><path d="M287 1784.5H352"/></g>
<g id="s5a1b"><text x="290" y="1819.1">方法</text><path d="M287 1820.5H298"/></g>
<g id="s5a1b1"><text x="309" y="1799.1">技术的发展</text><path d="M306 1800.5H326"/></g>
<g id="s5a1b1a"><text x="339" y="1795.6">介绍技术的发展历程和背景，帮助读者理解技术演变</text><text x="339" y="1799.1">的过程</text><path d="M336 1800.5H410"/></g>
<g id="s5a1b2"><text x="309" y="1812.1">产品的功能</text><path d="M306 1813.5H326"/></g>
<g id="s5a1b2a"><text x="339" y="1812.1">详细讲解核心功能点</text><path d="M336 1813.5H368"/></g>
<g id="s5a1b3"><text x="309" y="1825.1">使用的体验</text><path d="M306 1826.5H326"/></g>
<g id="s5a1b3a"><text x="339" y="1825.1">实测</text><path d="M336 1826.5H347"/></g>
<g id="s5a1b4"><text x="309" y="1838.1">对比分析</text><path d="M306 1839.5H323"/></g>
<g id="s5a1b4a"><text x="334" y="1838.1">客观公正</text><path d="M331 1839.5H348"/></g>
<g id="s5a2"><text x="265" y="1866.1">配图方法</text><path d="M262 1867.5H279"/></g>
<g id="s5a2a"><text x="290" y="1850.1">封面</text><path d="M287 1851.5H298"/></g>
<g id="s5a2b"><text x="290" y="1883.1">其他要素</text><path d="M287 1884.5H304"/></g>
<g id="s5a2b1"><text x="315" y="1863.1">产品图</text><path d="M312 1864.5H326"/></g>
<g id="s5a2b2"><text x="315" y="1876.1">参数配置图</text><path d="M312 1877.5H332"/></g>
<g id="s5a2b3"><text x="315" y="1889.1">数据统计图</text><path d="M312 1890.5H332"/></g>
<g id="s5a2b4"><text x="315" y="1901.1">图片要与文字内容相对应，且保证清晰无水印</text><path d="M312 1902.5H377"/></g>
<g id="s5a3"><text x="265" y="1920.1">技术介绍</text><path d="M262 1921.5H279"/></g>
<g id="s5a3a"><text x="289" y="1920.1">用通俗的语言解释</text><path d="M286 1921.5H315"/></g>
<g id="s5a3a1"><text x="330" y="1914.1">把复杂的技术原理用通俗易懂的语言讲清楚</text><path d="M327 1915.5H389"/></g>
<g id="s5a3a2"><text x="330" y="1927.1">多用比喻和类比，降低读者阅读门槛</text><path d="M327 1928.5H380"/></g>
<g id="s5b"><text x="207" y="2031.1">什么样的科技类图文是优质的？</text><path d="M200 2032.5H251"/></g>
<g id="s5b1"><text x="263" y="1973.1">优质图文</text><path d="M260 1974.5H277"/></g>
<g id="s5b1a"><text x="287" y="1940.1">信息真实，来源可靠</text><path d="M284 1941.5H316"/></g>
<g id="s5b1b"><text x="287" y="1952.1">具有独到的观点和深度的分析思考</text><path d="M284 1953.5H334"/></g>
<g id="s5b1c"><text x="287" y="1965.1">文章结构清晰，逻辑性强，可读性好</text><path d="M284 1966.5H337"/></g>
<g id="s5b1d"><text x="287" y="1977.6">能够紧跟科技热点，结合自身专业知识进行解读，</text><text x="287" y="1981.1">给出见解</text><path d="M284 1982.5H355"/></g>
<g id="s5b1e"><text x="287" y="1994.1">文章排版美观，图文并茂，不冗长</text><path d="M284 1995.5H334"/></g>
<g id="s5b1f"><text x="287" y="2007.1">标题准确，不夸大、不标题党，真实反映文章内容</text><path d="M284 2008.5H355"/></g>
<g id="s5b2"><text x="263" y="2045.1">优质要素</text><path d="M260 2046.5H277"/></g>
<g id="s5b2a"><text x="287" y="2019.1">标题</text><path d="M284 2020.5H295"/></g>
<g id="s5b2a1"><text x="307" y="2019.1">简洁有力、直击要点，准确概括核心内容</text><path d="M304 2020.5H363"/></g>
<g id="s5b2b"><text x="287" y="2032.1">配图</text><path d="M284 2033.5H295"/></g>
<g id="s5b2b1"><text x="307" y="2032.1">高清、原创，与内容紧密相关的图片</text><path d="M304 2033.5H357"/></g>
<g id="s5b2c"><text x="287" y="2045.1">专业度</text><path d="M284 2046.5H298"/></g>
<g id="s5b2c1"><text x="312" y="2045.1">专业知识准确，能解读技术背后逻辑</text><path d="M309 2046.5H362"/></g>
<g id="s5b2d"><text x="287" y="2058.1">时效性</text><path d="M284 2059.5H298"/></g>
<g id="s5b2d1"><text x="309" y="2058.1">紧跟行业动态，第一时间发布最新资讯</text><path d="M306 2059.5H362"/></g>
<g id="s5b2e"><text x="287" y="2070.1">原创性</text><path d="M284 2071.5H298"/></g>
<g id="s5b2e1"><text x="309" y="2070.1">坚持原创，拒绝搬运与洗稿行为</text><path d="M306 2071.5H353"/></g>
<g id="s5b3"><text x="263" y="2090.1">不推荐的图文类型</text><path d="M260 2091.5H289"/></g>
<g id="s5b3a"><text x="303" y="2084.1">低质搬运</text><path d="M300 2085.5H317"/></g>
<g id="s5b3b"><text x="303" y="2096.1">虚假宣传</text><path d="M300 2097.5H317"/></g>
</g>

<text class="wm" x="370" y="2110">头条 @蓝胖仔资源</text>
</svg>
